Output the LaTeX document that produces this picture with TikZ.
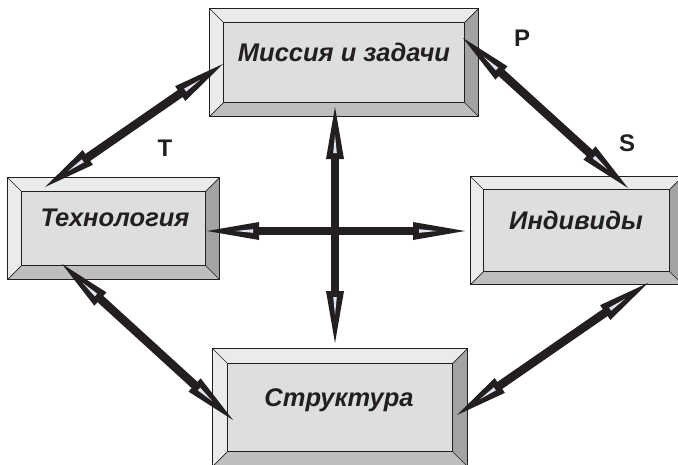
\documentclass[tikz,border=0pt]{standalone}
\usepackage{fontspec}
\setmainfont{Liberation Sans}
\usetikzlibrary{positioning, calc}
\definecolor{face}{HTML}{DDDEE0}
\definecolor{bevlight}{HTML}{EAEBEC}
\definecolor{bevdark}{HTML}{A2A3A5}
\definecolor{bevmid}{HTML}{BDBEC0}
\definecolor{ink}{HTML}{231F20}
\definecolor{sliver}{HTML}{E1E4EE}
\tikzset{
panel/.style = {rectangle, draw = ink, line width = 1.4pt, fill = face, inner sep = 0pt},
caption/.style = {font = \fontsize{25.5}{30}\selectfont\bfseries\itshape, text = ink,
   inner sep = 0pt, anchor = base},
tag/.style = {font = \fontsize{24}{28}\selectfont\bfseries, text = ink, inner sep = 1pt},
shaft/.style = {draw = ink, line width = 8.5pt},
rim/.style = {draw = ink, line width = 1.2pt},
seam/.style = {draw = ink, line width = 0.7pt}
}

% bevelled frame round a panel node: #1 node, #2 bevel width
\newcommand\bevel[2]{
   \coordinate (#1-nw) at ($(#1.north west)+(#2pt,-#2pt)$);
   \coordinate (#1-ne) at ($(#1.north east)+(-#2pt,-#2pt)$);
   \coordinate (#1-se) at ($(#1.south east)+(-#2pt,#2pt)$);
   \coordinate (#1-sw) at ($(#1.south west)+(#2pt,#2pt)$);
   \fill [bevlight] (#1.north west) -- (#1.north east) -- (#1-ne) -- (#1-nw) -- cycle;
   \fill [bevlight] (#1.north west) -- (#1-nw) -- (#1-sw) -- (#1.south west) -- cycle;
   \fill [bevdark] (#1.north east) -- (#1-ne) -- (#1-se) -- (#1.south east) -- cycle;
   \fill [bevmid] (#1.south west) -- (#1-sw) -- (#1-se) -- (#1.south east) -- cycle;
   \draw [seam] (#1.north west) -- (#1-nw) (#1.north east) -- (#1-ne)
      (#1.south east) -- (#1-se) (#1.south west) -- (#1-sw);
   \draw [rim] (#1-nw) rectangle (#1-se);
   \draw [rim, line width = 1.4pt] (#1.north west) rectangle (#1.south east);
}

% one arrow head at #1, pointing away from #2
\newcommand\tip[2]{
   \coordinate (hb) at ($(#1)!52pt!(#2)$);
   \fill [ink] (#1) -- ($(hb)!9pt!90:(#2)$) -- ($(hb)!9pt!-90:(#2)$) -- cycle;
   \coordinate (sb) at ($(#1)!46pt!(#2)$);
   \fill [sliver] ($(#1)!28pt!(#2)$) -- ($(sb)!1.8pt!90:(#2)$) -- ($(sb)!1.8pt!-90:(#2)$) -- cycle;
}

% double-headed link
\newcommand\twoway[2]{
   \draw [shaft] ($(#1)!48pt!(#2)$) -- ($(#2)!48pt!(#1)$);
   \tip{#1}{#2}
   \tip{#2}{#1}
}

\begin{document}
\begin{tikzpicture}[x = 1pt, y = -1pt]
\useasboundingbox (0,0) rectangle (678,464);

%% Panels
\node [panel, minimum width = 268pt, minimum height = 107pt] (mis) at (344,62.5) {};
\bevel{mis}{14}
\node [caption] (mis-t) at (344,61) {Миссия и задачи};

\node [panel, minimum width = 211pt, minimum height = 101pt] (tech) at (113.5,228.5) {};
\bevel{tech}{14}
\node [caption] (tech-t) at (115,226) {Технология};

\node [panel, minimum width = 211pt, minimum height = 107pt] (ind) at (576.5,230.5) {};
\bevel{ind}{13}
\node [caption] (ind-t) at (576,229) {Индивиды};

\node [panel, minimum width = 254pt, minimum height = 117pt] (str) at (340,407.5) {};
\bevel{str}{15}
\node [caption] (str-t) at (339,406) {Структура};

%% Link ends
\coordinate (v1) at (335,107);
\coordinate (v2) at (335,343);
\coordinate (h1) at (207,231);
\coordinate (h2) at (465,231);
\coordinate (mt) at (223,64);
\coordinate (tm) at (45,187);
\coordinate (mi) at (463,38);
\coordinate (im) at (628,188);
\coordinate (ts) at (62,264);
\coordinate (st) at (233,420);
\coordinate (is) at (648,283);
\coordinate (si) at (457,415);

%% Links
\twoway{v1}{v2}
\twoway{h1}{h2}
\twoway{mt}{tm}
\twoway{mi}{im}
\twoway{ts}{st}
\twoway{is}{si}

%% Letters
\node [tag] (p) at (522,38) {P};
\node [tag] (s) at (627,143) {S};
\node [tag] (t) at (165,148) {T};

\end{tikzpicture}
\end{document}
